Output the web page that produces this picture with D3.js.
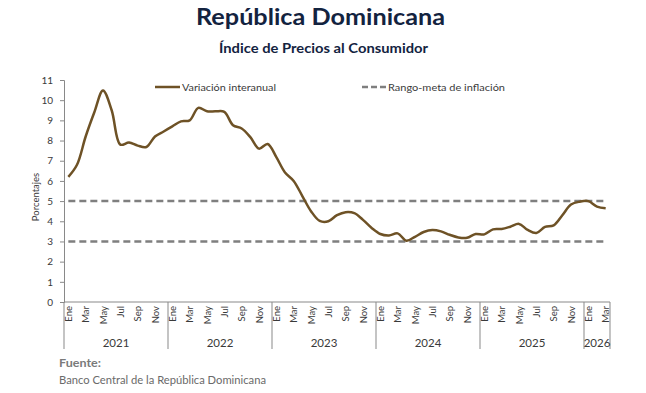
<!DOCTYPE html>
<html><head><meta charset="utf-8">
<script src="https://cdn.jsdelivr.net/npm/d3@7"></script>
<style>
body{margin:0;background:#fff;}
svg{display:block;font-family:"Lato","Open Sans",sans-serif;}
</style></head>
<body><svg id="c" width="646" height="393"></svg>
<script>
const title = "República Dominicana";
const subtitle = "Índice de Precios al Consumidor";
const years = ["2021","2022","2023","2024","2025","2026"];
const monthNames = ["Ene","Feb","Mar","Abr","May","Jun","Jul","Ago","Sep","Oct","Nov","Dic"];
const yTicks = [0,1,2,3,4,5,6,7,8,9,10,11];
const seriesName = "Variación interanual";
const targetName = "Rango-meta de inflación";
const targetLow = 3, targetHigh = 5;
const values = [
 6.2, 6.8, 8.2, 9.4, 10.48, 9.5, 7.8, 7.9, 7.75, 7.68, 8.2, 8.45,
 8.7, 8.95, 9.0, 9.62, 9.45, 9.45, 9.42, 8.76, 8.6, 8.17, 7.6, 7.83,
 7.18, 6.42, 6.0, 5.25, 4.5, 4.02, 4.0, 4.3, 4.45, 4.4, 4.07, 3.67,
 3.37, 3.3, 3.4, 3.04, 3.23, 3.47, 3.57, 3.5, 3.33, 3.2, 3.18, 3.37,
 3.35, 3.6, 3.62, 3.73, 3.87, 3.57, 3.42, 3.72, 3.8, 4.3, 4.83, 4.97,
 5.0, 4.73, 4.65
];
const sourceLabel = "Fuente:";
const sourceText = "Banco Central de la República Dominicana";

const data = values.map((v,i)=>({i, v, year: years[Math.floor(i/12)], month: monthNames[i%12]}));

const svg = d3.select("#c");
const L=64, R=610, T=80, B=302;
const x = d3.scaleBand().domain(data.map(d=>d.i)).range([L,R]).padding(0);
const y = d3.scaleLinear().domain([0,11]).range([B,T]);
const cx = i => x(i)+x.bandwidth()/2;
const axisColor="#898989", textColor="#3a3a3a";

// titles
svg.append("text").attr("x",196).attr("y",25)
  .attr("font-size",22.5).attr("font-weight",700).attr("fill","#13233f")
  .attr("textLength",249).attr("lengthAdjust","spacingAndGlyphs").text(title);
svg.append("text").attr("x",219).attr("y",53)
  .attr("font-size",12.5).attr("font-weight",700).attr("fill","#13233f")
  .attr("textLength",209).attr("lengthAdjust","spacingAndGlyphs").text(subtitle);

// y axis
const ya = svg.append("g").attr("transform",`translate(${L},0)`)
  .call(d3.axisLeft(y).tickValues(yTicks).tickSize(4).tickPadding(7).tickFormat(d3.format("d")));
ya.select(".domain").attr("stroke",axisColor);
ya.selectAll(".tick line").attr("stroke",axisColor);
ya.selectAll("text").attr("font-size",10).attr("fill",textColor).attr("font-family","Lato,sans-serif");

svg.append("text").attr("transform",`translate(39,${(T+B)/2+6}) rotate(-90)`)
  .attr("text-anchor","middle").attr("font-size",9.5).attr("fill",textColor).text("Porcentajes");

// target lines
[targetLow,targetHigh].forEach(t=>{
  svg.append("line").attr("x1",cx(0)).attr("x2",cx(values.length-1))
    .attr("y1",y(t)).attr("y2",y(t)).attr("stroke","#7f7f7f").attr("stroke-width",2.5)
    .attr("stroke-dasharray","7,4");
});

// x axis
svg.append("line").attr("x1",L).attr("x2",R).attr("y1",B).attr("y2",B).attr("stroke",axisColor);
const yearStarts = years.map((yr,k)=>k*12);
const bounds = yearStarts.map(s=>x(s)).concat([R]);
bounds.forEach(bx=>{
  svg.append("line").attr("x1",bx).attr("x2",bx).attr("y1",B).attr("y2",349).attr("stroke",axisColor);
});
years.forEach((yr,k)=>{
  svg.append("text").attr("x",(bounds[k]+bounds[k+1])/2).attr("y",347)
    .attr("text-anchor","middle").attr("font-size",11.5).attr("fill",textColor).text(yr);
});
data.filter(d=>d.i%2===0).forEach(d=>{
  svg.append("text").attr("transform",`translate(${cx(d.i)+3.5},306) rotate(-90)`)
    .attr("text-anchor","end").attr("font-size",9.5).attr("fill",textColor).text(d.month);
});

// series line
const line = d3.line().x(d=>cx(d.i)).y(d=>y(d.v)).curve(d3.curveCatmullRom.alpha(0.5));
svg.append("path").datum(data).attr("d",line).attr("fill","none")
  .attr("stroke","#6e5226").attr("stroke-width",2.5);

// legend
svg.append("line").attr("x1",155).attr("x2",180).attr("y1",87).attr("y2",87)
  .attr("stroke","#6e5226").attr("stroke-width",2.5);
svg.append("text").attr("x",182).attr("y",91).attr("font-size",10).attr("fill",textColor)
  .attr("textLength",94).attr("lengthAdjust","spacingAndGlyphs").text(seriesName);
svg.append("line").attr("x1",362).attr("x2",386).attr("y1",87).attr("y2",87)
  .attr("stroke","#7f7f7f").attr("stroke-width",2.5).attr("stroke-dasharray","6,3");
svg.append("text").attr("x",388).attr("y",91).attr("font-size",10).attr("fill",textColor)
  .attr("textLength",117).attr("lengthAdjust","spacingAndGlyphs").text(targetName);

// source
svg.append("text").attr("x",59).attr("y",367).attr("font-size",10.5).attr("font-weight",700)
  .attr("fill","#7a7a7a").attr("textLength",42).attr("lengthAdjust","spacingAndGlyphs").text(sourceLabel);
svg.append("text").attr("x",59).attr("y",384).attr("font-size",10.5).attr("fill","#6a6a6a")
  .attr("textLength",207).attr("lengthAdjust","spacingAndGlyphs").text(sourceText);
</script></body></html>
